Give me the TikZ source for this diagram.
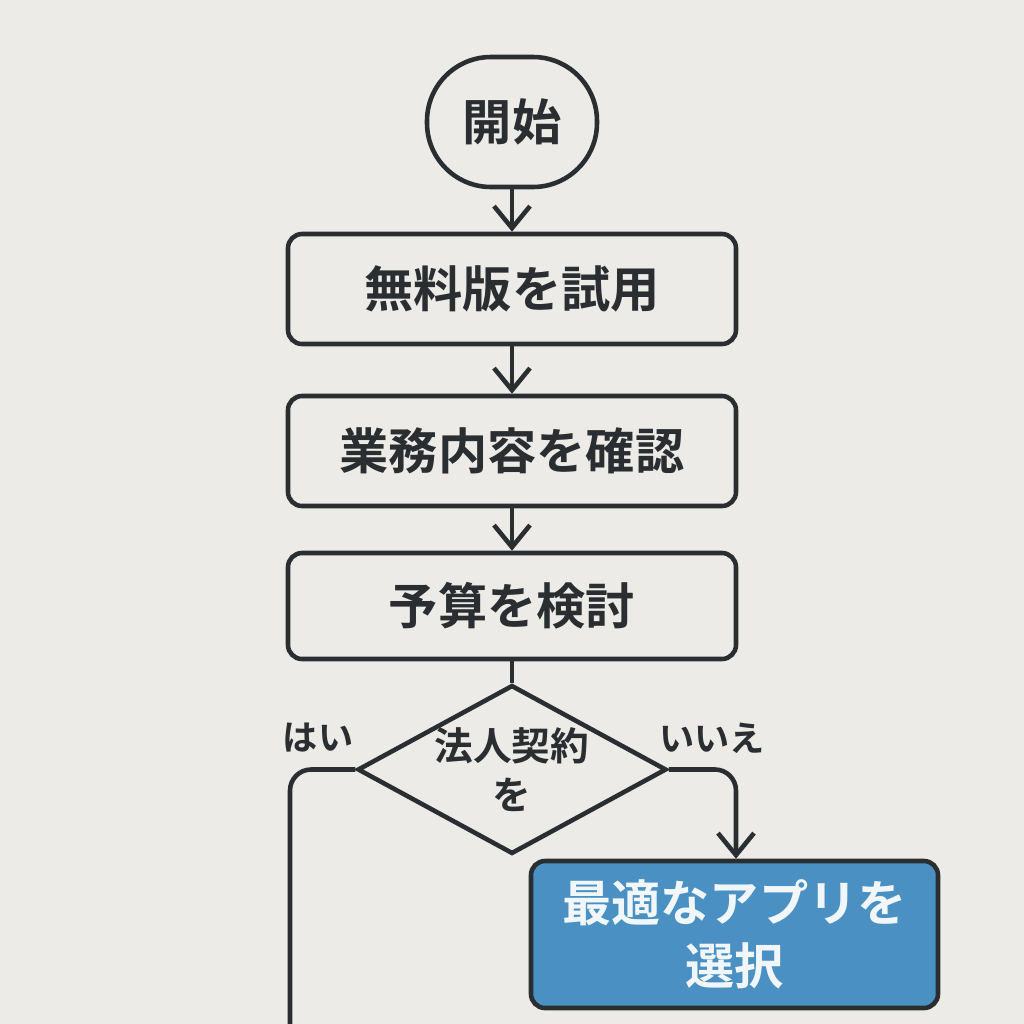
\documentclass[tikz,border=0pt]{standalone}
\usepackage{fontspec}
\setmainfont{Noto Sans CJK JP Bold}
\usetikzlibrary{shapes.geometric,arrows.meta}
\definecolor{bg}{HTML}{ECEBE8}
\definecolor{ink}{HTML}{2B2E30}
\definecolor{pick}{HTML}{4A90C2}

\tikzset{
  stepbox/.style={draw=ink, line width=1.3pt, rounded corners=4pt, minimum width=4.48cm, minimum height=1.1cm, font=\fontsize{14}{17}\selectfont, text=ink},
  arr/.style={draw=ink, line width=1.3pt, -{Straight Barb[length=2.2mm,width=3.6mm]}},
  lbl/.style={font=\fontsize{10}{12}\selectfont, text=ink}
}

\begin{document}
\begin{tikzpicture}
  \fill[bg] (0,0) rectangle (10.24,-10.24);
  \useasboundingbox (0,0) rectangle (10.24,-10.24);
  \node[draw=ink, line width=1.3pt, rounded corners=0.64cm, minimum width=1.7cm, minimum height=1.3cm, font=\fontsize{14}{17}\selectfont, text=ink] (start) at (5.12,-1.22) {開始};
  \node[stepbox] (trial) at (5.12,-2.89) {無料版を試用};
  \node[stepbox] (check) at (5.12,-4.51) {業務内容を確認};
  \node[stepbox, minimum height=1.06cm] (budget) at (5.12,-6.06) {予算を検討};
  \node[diamond, draw=ink, line width=1.3pt, minimum width=2.92cm, minimum height=1.6cm, inner sep=0pt, aspect=1.83, align=center, font=\fontsize{11}{14}\selectfont, text=ink] (corp) at (5.12,-7.695) {法人契約\\を};
  \node[stepbox, fill=pick, text=white!92!pick, minimum width=4.07cm, minimum height=1.47cm, align=center, font=\fontsize{14}{18}\selectfont] (app) at (7.345,-9.345) {最適なアプリを\\選択};
  \coordinate (yesend) at (2.9,-10.4);
  \draw[arr] (start) -- (trial);
  \draw[arr] (trial) -- (check);
  \draw[arr] (check) -- (budget);
  \draw[ink, line width=1.3pt] (budget) -- (corp);
  \draw[ink, line width=1.3pt, rounded corners=6pt] (corp.west) -| (yesend);
  \draw[arr, rounded corners=6pt] (corp.east) -| (app.north -| 7.36,0);
  \node[lbl] (yes) at (3.18,-7.38) {はい};
  \node[lbl] (no) at (7.12,-7.38) {いいえ};
\end{tikzpicture}
\end{document}
